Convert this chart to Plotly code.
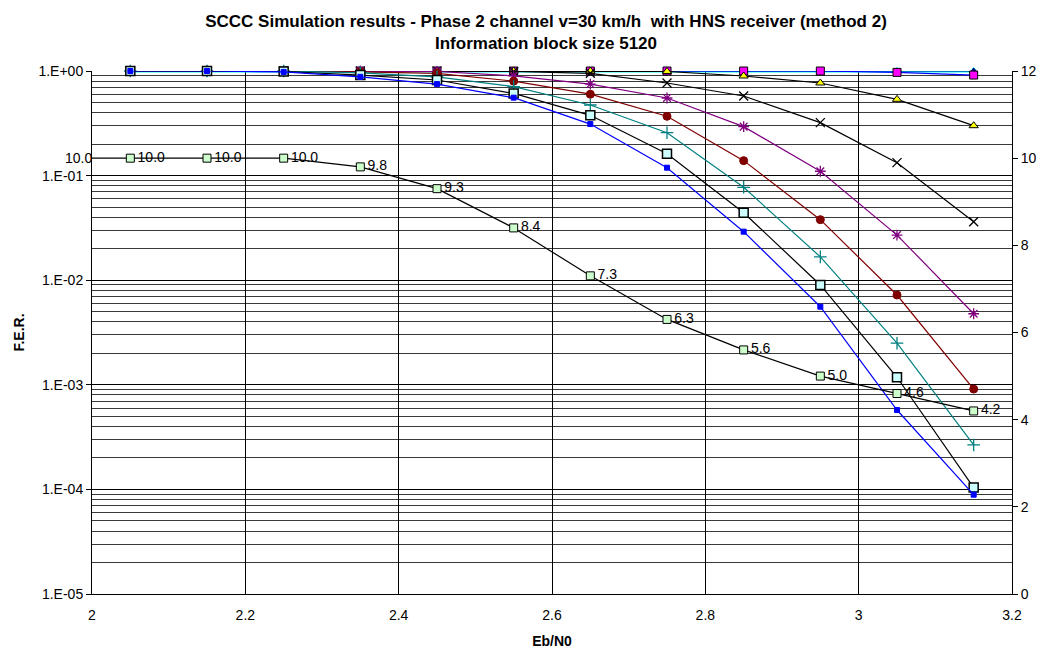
import plotly.graph_objects as go

# ---- data ----
eb_n0 = [2.05, 2.15, 2.25, 2.35, 2.45, 2.55, 2.65, 2.75, 2.85, 2.95, 3.05, 3.15]

fer_top = [1.0] * 12
fer_magenta = [1.0, 1.0, 1.0, 1.0, 1.0, 1.0, 1.0, 1.0, 1.0, 1.0, 0.97, 0.915]
fer_triangle = [1.0, 1.0, 1.0, 1.0, 1.0, 1.0, 1.0, 0.99, 0.896, 0.768, 0.536, 0.30]
fer_cross = [1.0, 1.0, 1.0, 1.0, 1.0, 0.99, 0.95, 0.768, 0.577, 0.321, 0.133, 0.0362]
fer_star = [1.0, 1.0, 1.0, 1.0, 0.99, 0.90, 0.75, 0.552, 0.294, 0.11, 0.027, 0.00478]
fer_circle = [1.0, 1.0, 1.0, 0.98, 0.95, 0.80, 0.60, 0.369, 0.139, 0.0379, 0.00722, 0.00091]
fer_plus = [1.0, 1.0, 1.0, 0.96, 0.88, 0.71, 0.473, 0.257, 0.0773, 0.0167, 0.0025, 2.66e-4]
fer_square = [1.0, 1.0, 0.99, 0.915, 0.82, 0.61, 0.377, 0.162, 0.0442, 0.009, 0.00118, 1.04e-4]
fer_blue = [1.0, 1.0, 0.98, 0.88, 0.75, 0.556, 0.311, 0.119, 0.0291, 0.00558, 0.000574, 8.9e-5]

iter_x = [1.95, 2.05, 2.15, 2.25, 2.35, 2.45, 2.55, 2.65, 2.75, 2.85, 2.95, 3.05, 3.15]
iter_vals = [10.0, 10.0, 10.0, 10.0, 9.8, 9.3, 8.4, 7.3, 6.3, 5.6, 5.0, 4.6, 4.2]

decades = [1e-5, 1e-4, 1e-3, 1e-2, 1e-1, 1e0]
decade_labels = ["1.E-05", "1.E-04", "1.E-03", "1.E-02", "1.E-01", "1.E+00"]
minor_vals = [m * d for d in decades[:-1] for m in range(2, 10)]

x_range = [2, 3.2]
x_ticks = [2, 2.2, 2.4, 2.6, 2.8, 3, 3.2]
y2_ticks = [0, 2, 4, 6, 8, 10, 12]

FONT = "Liberation Sans, Arial, sans-serif"
TICK = 14

fig = go.Figure()


def add_series(y, line_color, symbol, mfill, mline, size, lw=1.2, mlw=1):
    fig.add_trace(go.Scatter(
        x=eb_n0, y=y, mode="lines+markers", showlegend=False, cliponaxis=False,
        line=dict(color=line_color, width=lw),
        marker=dict(symbol=symbol, size=size, color=mfill,
                    line=dict(color=mline, width=mlw)),
    ))


add_series(fer_top, "#00FFFF", "triangle-up", "#000080", "#00FFFF", 7, lw=3)
add_series(fer_top, "#000080", "triangle-up", "#000080", "#000080", 6, lw=1)
add_series(fer_magenta, "#0000FF", "square", "#FF00FF", "#000000", 8)
add_series(fer_triangle, "#000000", "triangle-up", "#FFFF00", "#000000", 8)
add_series(fer_cross, "#000000", "x-thin-open", "#000000", "#000000", 9, mlw=1.3)
add_series(fer_star, "#800080", "asterisk-open", "#800080", "#800080", 9, mlw=1.3)
add_series(fer_circle, "#800000", "circle", "#800000", "#800000", 8)
add_series(fer_plus, "#008080", "cross-thin-open", "#008080", "#008080", 9, mlw=1.3)
add_series(fer_square, "#000000", "square", "#CCFFFF", "#000000", 9, mlw=1.5)
add_series(fer_blue, "#0000FF", "square", "#0000FF", "#0000FF", 5)

# iterations series on secondary axis (line + markers, clipped to plot)
fig.add_trace(go.Scatter(
    x=iter_x, y=iter_vals, yaxis="y2", mode="lines+markers",
    showlegend=False, cliponaxis=True,
    line=dict(color="#000000", width=1.2),
    marker=dict(symbol="square", size=8, color="#CCFFCC",
                line=dict(color="#000000", width=1)),
))
# data labels for in-range points (invisible markers give the label offset)
fig.add_trace(go.Scatter(
    x=iter_x[1:], y=iter_vals[1:], yaxis="y2", mode="markers+text",
    showlegend=False, cliponaxis=False, hoverinfo="skip",
    marker=dict(size=10, color="rgba(0,0,0,0)"),
    text=[f"{v:.1f}" for v in iter_vals[1:]], textposition="middle right",
    textfont=dict(family=FONT, size=14, color="#000000"),
))
# data label for the point just left of the axis range
fig.add_annotation(
    x=(iter_x[0] - x_range[0]) / (x_range[1] - x_range[0]), xref="paper",
    y=iter_vals[0], yref="y2", text=f"{iter_vals[0]:.1f}",
    showarrow=False, xanchor="left", xshift=9,
    font=dict(family=FONT, size=14, color="#000000"),
)

fig.update_layout(
    width=1046, height=652,
    margin=dict(l=92, r=34, t=71, b=58),
    paper_bgcolor="white", plot_bgcolor="white",
    font=dict(family=FONT, size=TICK, color="#000000"),
    title=dict(
        text="<b>SCCC Simulation results - Phase 2 channel v=30 km/h  with HNS receiver (method 2)<br>Information block size 5120</b>",
        xref="container", x=0.522, xanchor="center",
        yref="container", y=1 - 27 / 652, yanchor="middle",
        font=dict(family=FONT, size=17, color="#000000"),
    ),
    xaxis=dict(
        range=x_range, tickmode="array", tickvals=x_ticks,
        ticktext=[str(v) for v in x_ticks],
        showgrid=True, gridcolor="#000000", gridwidth=1,
        showline=True, linecolor="#000000", linewidth=1,
        ticks="", ticklabelstandoff=8, automargin=False,
        tickfont=dict(family=FONT, size=TICK),
        zeroline=False,
        title=dict(text="<b>Eb/N0</b>", font=dict(family=FONT, size=TICK), standoff=14),
    ),
    yaxis=dict(
        type="log", range=[-5, 0], tickmode="array", tickvals=decades,
        ticktext=decade_labels, automargin=False,
        showgrid=True, gridcolor="#000000", gridwidth=1,
        showline=True, linecolor="#000000", linewidth=1,
        ticks="outside", ticklen=5, tickcolor="#000000",
        tickfont=dict(family=FONT, size=TICK),
        minor=dict(tickmode="array", tickvals=minor_vals, showgrid=True,
                   gridcolor="#3a3a3a", gridwidth=1, ticks=""),
        zeroline=False,
        title=dict(text="<b>F.E.R.</b>", font=dict(family=FONT, size=TICK), standoff=10),
    ),
    yaxis2=dict(
        overlaying="y", side="right", range=[0, 12], automargin=False,
        tickmode="array", tickvals=y2_ticks, ticktext=[str(v) for v in y2_ticks],
        showgrid=False, zeroline=False,
        showline=True, linecolor="#000000", linewidth=1,
        ticks="outside", ticklen=5, tickcolor="#000000",
        tickfont=dict(family=FONT, size=TICK),
    ),
)

fig.write_html("out.html")
